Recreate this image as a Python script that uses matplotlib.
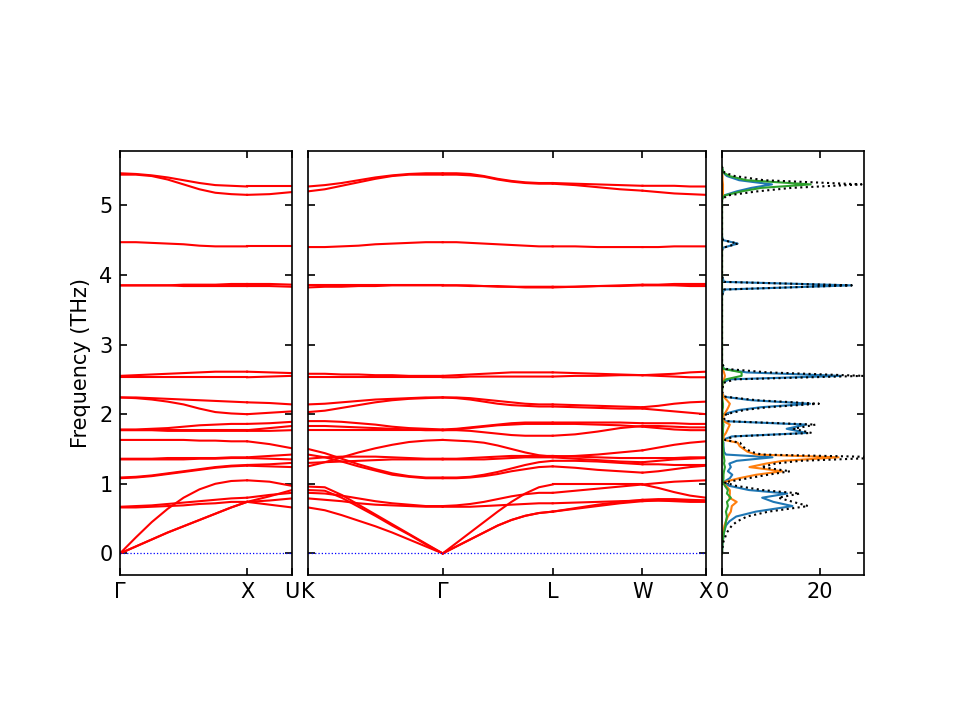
import matplotlib
matplotlib.use("Agg")
import matplotlib.pyplot as plt
import numpy as np

# q-point distances along the fcc path (2pi/a units)
q_gx = [0.0, 0.125, 0.25, 0.375, 0.5, 0.625, 0.75, 0.875, 1.0]
q_xu = [1.0, 1.1768, 1.3536]
q_kg = [1.3536, 1.4862, 1.6188, 1.7513, 1.8839, 2.0165, 2.1491, 2.2816, 2.4142]
q_gl = [2.4142, 2.5225, 2.6307, 2.7390, 2.8472, 2.9555, 3.0637, 3.1720, 3.2802]
q_lw = [3.2802, 3.4570, 3.6338, 3.8105, 3.9873]
q_wx = [3.9873, 4.1123, 4.2373, 4.3623, 4.4873]

left_ticks = [0.0, 1.0, 1.3536]
left_labels = ["Γ", "X", "U"]
mid_ticks = [1.3536, 2.4142, 3.2802, 3.9873, 4.4873]
mid_labels = ["K", "Γ", "L", "W", "X"]

# band frequencies (THz) per segment
bands_gx = [
    [0.00, 0.23, 0.45, 0.64, 0.80, 0.92, 1.00, 1.04, 1.05],
    [0.00, 0.10, 0.20, 0.30, 0.39, 0.48, 0.57, 0.66, 0.74],
    [0.00, 0.10, 0.20, 0.30, 0.39, 0.48, 0.57, 0.66, 0.74],
    [0.67, 0.68, 0.69, 0.71, 0.73, 0.75, 0.77, 0.79, 0.80],
    [0.66, 0.66, 0.67, 0.68, 0.69, 0.71, 0.72, 0.74, 0.74],
    [1.09, 1.10, 1.12, 1.15, 1.18, 1.21, 1.24, 1.26, 1.27],
    [1.08, 1.09, 1.11, 1.14, 1.17, 1.20, 1.23, 1.25, 1.26],
    [1.36, 1.36, 1.36, 1.37, 1.37, 1.37, 1.37, 1.38, 1.38],
    [1.35, 1.35, 1.35, 1.35, 1.35, 1.36, 1.36, 1.37, 1.37],
    [1.63, 1.63, 1.63, 1.63, 1.63, 1.62, 1.62, 1.61, 1.61],
    [1.78, 1.78, 1.79, 1.80, 1.82, 1.84, 1.85, 1.86, 1.86],
    [1.77, 1.77, 1.77, 1.77, 1.77, 1.77, 1.77, 1.77, 1.77],
    [1.77, 1.77, 1.77, 1.76, 1.76, 1.76, 1.76, 1.76, 1.76],
    [2.24, 2.24, 2.23, 2.22, 2.21, 2.20, 2.19, 2.18, 2.17],
    [2.24, 2.23, 2.21, 2.18, 2.14, 2.08, 2.03, 2.01, 2.00],
    [2.55, 2.56, 2.57, 2.58, 2.59, 2.60, 2.61, 2.61, 2.61],
    [2.53, 2.53, 2.53, 2.53, 2.53, 2.53, 2.53, 2.53, 2.53],
    [3.85, 3.85, 3.85, 3.85, 3.86, 3.86, 3.86, 3.87, 3.87],
    [3.85, 3.85, 3.85, 3.85, 3.84, 3.84, 3.84, 3.84, 3.84],
    [4.47, 4.47, 4.46, 4.45, 4.44, 4.42, 4.41, 4.41, 4.41],
    [5.46, 5.45, 5.43, 5.40, 5.36, 5.32, 5.29, 5.28, 5.27],
    [5.44, 5.44, 5.42, 5.37, 5.30, 5.23, 5.18, 5.16, 5.15],
]

bands_xu = [
    [1.05, 1.03, 0.97],
    [0.74, 0.82, 0.91],
    [0.74, 0.76, 0.79],
    [0.80, 0.84, 0.87],
    [0.74, 0.70, 0.66],
    [1.27, 1.28, 1.30],
    [1.26, 1.25, 1.24],
    [1.38, 1.40, 1.42],
    [1.37, 1.36, 1.35],
    [1.61, 1.57, 1.51],
    [1.86, 1.87, 1.89],
    [1.77, 1.80, 1.83],
    [1.76, 1.76, 1.77],
    [2.17, 2.16, 2.14],
    [2.00, 2.02, 2.04],
    [2.61, 2.60, 2.59],
    [2.53, 2.54, 2.55],
    [3.87, 3.87, 3.86],
    [3.84, 3.84, 3.83],
    [4.41, 4.41, 4.41],
    [5.27, 5.27, 5.27],
    [5.15, 5.16, 5.19],
]

bands_kg = [
    [0.96, 0.95, 0.84, 0.70, 0.56, 0.42, 0.28, 0.14, 0.00],
    [0.91, 0.90, 0.80, 0.67, 0.54, 0.40, 0.27, 0.13, 0.00],
    [0.66, 0.62, 0.55, 0.47, 0.39, 0.30, 0.20, 0.10, 0.00],
    [0.87, 0.86, 0.83, 0.79, 0.75, 0.72, 0.70, 0.68, 0.68],
    [0.79, 0.77, 0.75, 0.72, 0.70, 0.69, 0.68, 0.67, 0.67],
    [1.50, 1.44, 1.36, 1.28, 1.21, 1.15, 1.11, 1.09, 1.09],
    [1.42, 1.38, 1.32, 1.25, 1.19, 1.13, 1.10, 1.08, 1.08],
    [1.36, 1.38, 1.39, 1.39, 1.39, 1.38, 1.37, 1.36, 1.36],
    [1.30, 1.31, 1.32, 1.33, 1.34, 1.35, 1.35, 1.35, 1.35],
    [1.25, 1.31, 1.38, 1.45, 1.51, 1.56, 1.60, 1.62, 1.63],
    [1.90, 1.90, 1.89, 1.87, 1.85, 1.82, 1.80, 1.79, 1.78],
    [1.83, 1.83, 1.82, 1.81, 1.80, 1.79, 1.78, 1.77, 1.77],
    [1.77, 1.77, 1.77, 1.77, 1.77, 1.77, 1.77, 1.77, 1.77],
    [2.14, 2.15, 2.17, 2.19, 2.21, 2.22, 2.23, 2.24, 2.24],
    [2.03, 2.05, 2.09, 2.13, 2.17, 2.20, 2.22, 2.23, 2.24],
    [2.58, 2.58, 2.57, 2.57, 2.56, 2.56, 2.55, 2.55, 2.55],
    [2.53, 2.53, 2.53, 2.53, 2.53, 2.53, 2.53, 2.53, 2.53],
    [3.85, 3.85, 3.85, 3.85, 3.85, 3.85, 3.85, 3.85, 3.85],
    [3.82, 3.83, 3.83, 3.84, 3.84, 3.85, 3.85, 3.85, 3.85],
    [4.40, 4.40, 4.41, 4.42, 4.44, 4.45, 4.46, 4.47, 4.47],
    [5.27, 5.29, 5.32, 5.36, 5.40, 5.43, 5.45, 5.46, 5.46],
    [5.20, 5.23, 5.28, 5.33, 5.38, 5.42, 5.44, 5.44, 5.44],
]

bands_gl = [
    [0.00, 0.15, 0.30, 0.45, 0.60, 0.74, 0.86, 0.95, 0.99],
    [0.00, 0.10, 0.20, 0.30, 0.40, 0.48, 0.54, 0.58, 0.60],
    [0.00, 0.10, 0.20, 0.30, 0.40, 0.48, 0.54, 0.58, 0.60],
    [0.68, 0.69, 0.71, 0.74, 0.78, 0.82, 0.85, 0.87, 0.87],
    [0.67, 0.67, 0.67, 0.68, 0.69, 0.70, 0.71, 0.72, 0.72],
    [1.09, 1.09, 1.10, 1.13, 1.17, 1.22, 1.27, 1.31, 1.33],
    [1.08, 1.08, 1.09, 1.11, 1.14, 1.18, 1.21, 1.24, 1.25],
    [1.36, 1.36, 1.37, 1.38, 1.39, 1.40, 1.40, 1.40, 1.40],
    [1.35, 1.35, 1.35, 1.35, 1.36, 1.37, 1.38, 1.38, 1.38],
    [1.63, 1.62, 1.61, 1.59, 1.55, 1.50, 1.45, 1.41, 1.39],
    [1.78, 1.79, 1.81, 1.83, 1.85, 1.87, 1.88, 1.88, 1.88],
    [1.77, 1.77, 1.76, 1.74, 1.72, 1.70, 1.69, 1.69, 1.69],
    [1.77, 1.78, 1.80, 1.82, 1.84, 1.85, 1.86, 1.86, 1.86],
    [2.24, 2.24, 2.23, 2.21, 2.19, 2.17, 2.15, 2.14, 2.14],
    [2.24, 2.23, 2.21, 2.18, 2.15, 2.13, 2.12, 2.11, 2.11],
    [2.55, 2.56, 2.57, 2.58, 2.59, 2.60, 2.60, 2.60, 2.60],
    [2.53, 2.53, 2.54, 2.54, 2.54, 2.54, 2.54, 2.54, 2.54],
    [3.85, 3.85, 3.84, 3.84, 3.83, 3.83, 3.82, 3.82, 3.82],
    [3.85, 3.85, 3.85, 3.84, 3.84, 3.83, 3.83, 3.83, 3.83],
    [4.47, 4.47, 4.46, 4.45, 4.44, 4.43, 4.42, 4.41, 4.41],
    [5.46, 5.46, 5.45, 5.42, 5.38, 5.35, 5.33, 5.32, 5.32],
    [5.44, 5.44, 5.43, 5.41, 5.37, 5.34, 5.32, 5.31, 5.31],
]

bands_lw = [
    [0.99, 0.99, 0.99, 0.99, 0.99],
    [0.60, 0.64, 0.68, 0.72, 0.75],
    [0.60, 0.65, 0.70, 0.74, 0.77],
    [0.87, 0.90, 0.93, 0.96, 0.99],
    [0.72, 0.73, 0.74, 0.75, 0.76],
    [1.33, 1.33, 1.32, 1.30, 1.28],
    [1.25, 1.23, 1.20, 1.18, 1.16],
    [1.40, 1.39, 1.38, 1.37, 1.37],
    [1.38, 1.36, 1.34, 1.32, 1.31],
    [1.39, 1.40, 1.42, 1.45, 1.48],
    [1.88, 1.88, 1.88, 1.88, 1.87],
    [1.69, 1.71, 1.75, 1.80, 1.83],
    [1.86, 1.86, 1.85, 1.84, 1.82],
    [2.14, 2.13, 2.12, 2.11, 2.10],
    [2.11, 2.10, 2.09, 2.08, 2.08],
    [2.60, 2.59, 2.58, 2.57, 2.56],
    [2.54, 2.55, 2.55, 2.56, 2.56],
    [3.82, 3.83, 3.84, 3.85, 3.86],
    [3.83, 3.83, 3.84, 3.84, 3.85],
    [4.41, 4.41, 4.40, 4.40, 4.40],
    [5.32, 5.31, 5.30, 5.29, 5.28],
    [5.31, 5.29, 5.26, 5.23, 5.21],
]

bands_wx = [
    [0.99, 1.01, 1.03, 1.04, 1.05],
    [0.75, 0.76, 0.76, 0.76, 0.76],
    [0.77, 0.78, 0.78, 0.77, 0.76],
    [0.99, 0.94, 0.88, 0.83, 0.80],
    [0.76, 0.76, 0.75, 0.74, 0.74],
    [1.28, 1.28, 1.27, 1.27, 1.27],
    [1.16, 1.18, 1.21, 1.24, 1.26],
    [1.37, 1.37, 1.37, 1.38, 1.38],
    [1.31, 1.33, 1.35, 1.36, 1.37],
    [1.48, 1.52, 1.56, 1.59, 1.61],
    [1.87, 1.87, 1.87, 1.86, 1.86],
    [1.83, 1.83, 1.82, 1.81, 1.81],
    [1.82, 1.80, 1.78, 1.77, 1.77],
    [2.10, 2.12, 2.15, 2.17, 2.18],
    [2.08, 2.06, 2.04, 2.02, 2.00],
    [2.56, 2.57, 2.58, 2.60, 2.61],
    [2.56, 2.55, 2.54, 2.53, 2.53],
    [3.86, 3.86, 3.87, 3.87, 3.87],
    [3.85, 3.85, 3.85, 3.84, 3.84],
    [4.40, 4.40, 4.41, 4.41, 4.41],
    [5.28, 5.28, 5.28, 5.27, 5.27],
    [5.21, 5.19, 5.17, 5.16, 5.15],
]

# projected DOS (states/THz) on a shared frequency grid
dos_freq = [0.00, 0.15, 0.30, 0.40, 0.46, 0.53, 0.60, 0.68, 0.74, 0.80,
            0.86, 0.91, 0.97, 1.02, 1.08, 1.13, 1.18, 1.24, 1.29, 1.33,
            1.38, 1.42, 1.46, 1.54, 1.59, 1.63, 1.68, 1.73, 1.79, 1.85,
            1.90, 1.96, 2.00, 2.06, 2.10, 2.15, 2.20, 2.25, 2.32, 2.45,
            2.50, 2.55, 2.60, 2.65, 2.72, 3.70, 3.79, 3.85, 3.90, 3.98,
            4.35, 4.39, 4.45, 4.50, 4.56, 5.08, 5.14, 5.20, 5.25, 5.30,
            5.36, 5.42, 5.47, 5.55]
pdos_1 = [0.0, 0.1, 0.4, 0.8, 1.5, 2.9, 6.9, 14.4, 10.5, 8.2,
          13.3, 5.5, 1.5, 0.2, 1.6, 2.1, 1.2, 1.8, 1.5, 3.0,
          10.3, 0.8, 0.4, 0.3, 0.3, 0.1, 2.0, 17.3, 13.2, 17.2,
          0.3, 0.1, 0.3, 3.5, 8.0, 18.0, 6.0, 0.4, 0.0, 0.1,
          1.5, 24.3, 5.0, 0.4, 0.0, 0.0, 0.4, 26.5, 0.4, 0.0,
          0.0, 0.2, 3.2, 0.2, 0.0, 0.0, 0.3, 3.0, 6.0, 10.2,
          3.5, 1.0, 0.2, 0.0]
pdos_2 = [0.0, 0.0, 0.2, 0.5, 0.8, 1.2, 1.8, 2.0, 3.0, 1.5,
          1.6, 1.6, 0.8, 0.1, 3.5, 7.0, 12.3, 5.6, 9.0, 12.5,
          23.8, 7.0, 5.2, 3.6, 3.2, 0.4, 0.3, 0.8, 1.2, 1.6,
          0.3, 0.2, 0.5, 1.0, 1.3, 1.6, 1.0, 0.3, 0.0, 0.1,
          0.4, 0.6, 0.4, 0.1, 0.0, 0.0, 0.0, 0.0, 0.0, 0.0,
          0.0, 0.0, 0.0, 0.0, 0.0, 0.0, 0.2, 0.2, 0.2, 0.2,
          0.1, 0.1, 0.0, 0.0]
pdos_3 = [0.0, 0.1, 0.4, 0.7, 0.8, 1.0, 0.8, 1.2, 1.0, 1.8,
          1.0, 1.2, 0.6, 0.2, 0.3, 0.3, 0.4, 0.6, 0.4, 0.5,
          0.4, 0.3, 0.3, 0.2, 0.2, 0.1, 0.1, 0.2, 0.2, 0.3,
          0.1, 0.0, 0.1, 0.1, 0.2, 0.2, 0.1, 0.0, 0.0, 0.1,
          0.8, 4.0, 4.0, 0.3, 0.0, 0.0, 0.0, 0.0, 0.0, 0.0,
          0.0, 0.0, 0.0, 0.0, 0.0, 0.0, 0.5, 4.0, 8.0, 18.1,
          5.0, 1.5, 0.3, 0.0]
dos_ticks = [0, 20]

total_dos = np.array(pdos_1) + np.array(pdos_2) + np.array(pdos_3)

fig = plt.figure(figsize=(6.4, 4.8), dpi=150)
rect_y, rect_h = 0.2014, 0.5889
ax1 = fig.add_axes([0.125, rect_y, 0.1792, rect_h])
ax2 = fig.add_axes([0.3208, rect_y, 0.4146, rect_h])
ax3 = fig.add_axes([0.7521, rect_y, 0.1479, rect_h])

panels = [
    (ax1, [(q_gx, bands_gx), (q_xu, bands_xu)], left_ticks, left_labels),
    (ax2, [(q_kg, bands_kg), (q_gl, bands_gl), (q_lw, bands_lw), (q_wx, bands_wx)],
     mid_ticks, mid_labels),
]
for ax, segments, ticks, labels in panels:
    for q, bands in segments:
        for b in bands:
            ax.plot(q, b, "r-", lw=1)
    ax.axhline(0, ls=":", lw=0.6, color="b")
    ax.set_xlim(ticks[0], ticks[-1])
    ax.set_xticks(ticks)
    ax.set_xticklabels(labels)

ax3.plot(pdos_1, dos_freq, color="C0", lw=1)
ax3.plot(pdos_2, dos_freq, color="C1", lw=1)
ax3.plot(pdos_3, dos_freq, color="C2", lw=1)
ax3.plot(total_dos, dos_freq, color="k", ls=":", lw=1)
ax3.set_xlim(0, 29)
ax3.set_xticks(dos_ticks)

for ax in (ax1, ax2, ax3):
    ax.set_ylim(-0.31, 5.78)
    ax.set_yticks([0, 1, 2, 3, 4, 5])
    ax.tick_params(direction="in", top=True, right=True, labelsize=10)
ax2.tick_params(labelleft=False)
ax3.tick_params(labelleft=False)
ax1.set_ylabel("Frequency (THz)")

fig.savefig("out.png", dpi=150)
